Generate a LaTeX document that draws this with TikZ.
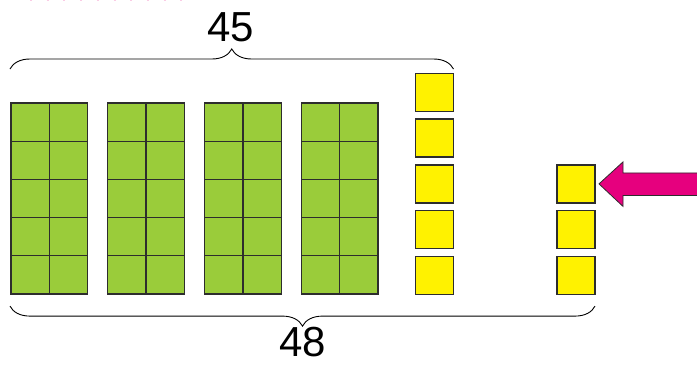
\documentclass[tikz,border=0pt]{standalone}
\usepackage{fontspec}
\setmainfont{Liberation Sans}
\usetikzlibrary{positioning,calc,decorations.pathreplacing}
\definecolor{CubeGreen}{RGB}{154,204,58}
\definecolor{CubeYellow}{RGB}{255,242,0}
\definecolor{EdgeGrey}{RGB}{45,45,45}
\definecolor{PointPink}{RGB}{230,0,126}

\begin{document}
\begin{tikzpicture}[x=1pt, y=-1pt,
  cube/.style={draw=EdgeGrey, line width=1.3pt, inner sep=0pt, outer sep=0pt, anchor=north west},
  tenrod/.style={cube, fill=CubeGreen, minimum size=38.3pt},
  unit/.style={cube, fill=CubeYellow, minimum size=38pt},
  curly/.style={decorate, decoration={brace, amplitude=20pt}, line width=0.9pt},
  sumlabel/.style={font=\fontsize{42}{42}\selectfont, inner sep=0pt}]
  \useasboundingbox (0,0) rectangle (697,365);
  \draw[PointPink!20, dash pattern=on 2pt off 14.7pt, line width=1.5pt] (30,0.5) -- (195,0.5);
  % four rods of ten, two columns each
  \foreach \b in {0,...,3}
    \foreach \r in {0,...,4}
      \foreach \c in {0,1}
        \node[tenrod] (g-\b-\r-\c) at ({11+96.8*\b+38.3*\c}, {103+38.2*\r}) {};
  % five loose units, then three more
  \foreach \r in {0,...,4}
    \node[unit] (y\r) at (415.5, {73.3+45.8*\r}) {};
  \foreach \r in {2,3,4}
    \node[unit] (r\r) at (557, {73.3+45.8*\r}) {};
  \coordinate (tl) at ($(g-0-0-0.north west)+(-1,-34)$);
  \coordinate (tr) at (y0.east |- tl);
  \coordinate (bl) at ($(g-0-4-0.south west)+(-1,12)$);
  \coordinate (br) at (r4.east |- bl);
  \draw[curly] (tl) -- (tr);
  \draw[curly] (br) -- (bl);
  \node[sumlabel] (sum45) at (231,27) {45};
  \node[sumlabel] (sum48) at (303,342) {48};
  % pointer to the new units
  \coordinate (tip) at ($(r2.east)+(4,0)$);
  \draw[fill=PointPink, draw=EdgeGrey, line width=0.8pt] (tip) -- ++(24,-22) -- ++(0,11) -- ++(80,0) -- ++(0,22.5) -- ++(-80,0) -- ++(0,11) -- cycle;
\end{tikzpicture}
\end{document}
